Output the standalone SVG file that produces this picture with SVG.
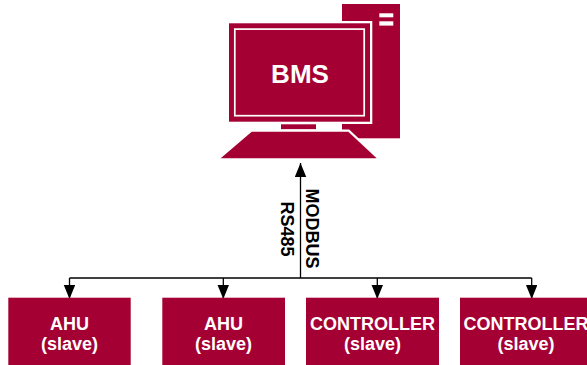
<svg xmlns="http://www.w3.org/2000/svg" width="587" height="365" viewBox="0 0 587 365">
<style>
.red{fill:#A50034}
.wo{stroke:#FFFFFF;paint-order:stroke}
.lbl{font-family:"Liberation Sans",Arial,sans-serif;font-weight:bold;font-size:18px;text-anchor:middle}
.wt{fill:#FFFFFF}
.edge{stroke:#000000;stroke-width:1.3;fill:none}
</style>
<defs>
<marker id="arr" markerUnits="userSpaceOnUse" markerWidth="15" markerHeight="12" viewBox="0 0 15 12" refX="14" refY="5.75" orient="auto">
<path d="M0,0 L14,5.75 L0,11.5 Z" fill="#000000"/>
</marker>
</defs>
<rect width="587" height="365" fill="#FFFFFF"/>
<g id="bms">
<rect class="red" x="342" y="4" width="58" height="134.3"/>
<rect x="379.3" y="13.3" width="14" height="4" fill="#FFFFFF"/>
<rect x="379.3" y="21.3" width="14" height="4.3" fill="#FFFFFF"/>
<rect class="red wo" x="229" y="23.3" width="141" height="98.4" stroke-width="4.6"/>
<rect x="234.8" y="29.1" width="129.4" height="86.6" fill="none" stroke="#FFFFFF" stroke-width="1.7"/>
<rect class="red" x="281" y="124.3" width="35" height="5"/>
<polygon class="red wo" points="251.7,131.7 348.3,131.7 376.7,158.3 220.7,158.3" stroke-width="4.4"/>
<text class="wt" x="300" y="82.7" font-family="Liberation Sans, Arial, sans-serif" font-weight="bold" font-size="26" text-anchor="middle">BMS</text>
</g>
<g id="connectors">
<line class="edge" x1="69.5" y1="278" x2="531.7" y2="278"/>
<line class="edge" x1="300.5" y1="278" x2="300.5" y2="163" marker-end="url(#arr)"/>
<line class="edge" x1="69.5" y1="278" x2="69.5" y2="299" marker-end="url(#arr)"/>
<line class="edge" x1="223.3" y1="278" x2="223.3" y2="299" marker-end="url(#arr)"/>
<line class="edge" x1="377.3" y1="278" x2="377.3" y2="299" marker-end="url(#arr)"/>
<line class="edge" x1="531.7" y1="278" x2="531.7" y2="299" marker-end="url(#arr)"/>
<text class="lbl" transform="translate(305.5,228.5) rotate(90)" fill="#000000">MODBUS</text>
<text class="lbl" transform="translate(281,229) rotate(90)" fill="#000000">RS485</text>
</g>
<g id="ahu1">
<rect class="red" x="8.3" y="297.7" width="122.4" height="70"/>
<text class="lbl wt" x="69.5" y="330">AHU</text>
<text class="lbl wt" x="69.5" y="350">(slave)</text>
</g>
<g id="ahu2">
<rect class="red" x="162.3" y="297.7" width="122.7" height="70"/>
<text class="lbl wt" x="223.5" y="330">AHU</text>
<text class="lbl wt" x="223.5" y="350">(slave)</text>
</g>
<g id="controller1">
<rect class="red" x="306" y="297.7" width="133" height="70"/>
<text class="lbl wt" x="372.5" y="330">CONTROLLER</text>
<text class="lbl wt" x="372.5" y="350">(slave)</text>
</g>
<g id="controller2">
<rect class="red" x="460" y="297.7" width="133" height="70"/>
<text class="lbl wt" x="526" y="330">CONTROLLER</text>
<text class="lbl wt" x="526" y="350">(slave)</text>
</g>
</svg>
